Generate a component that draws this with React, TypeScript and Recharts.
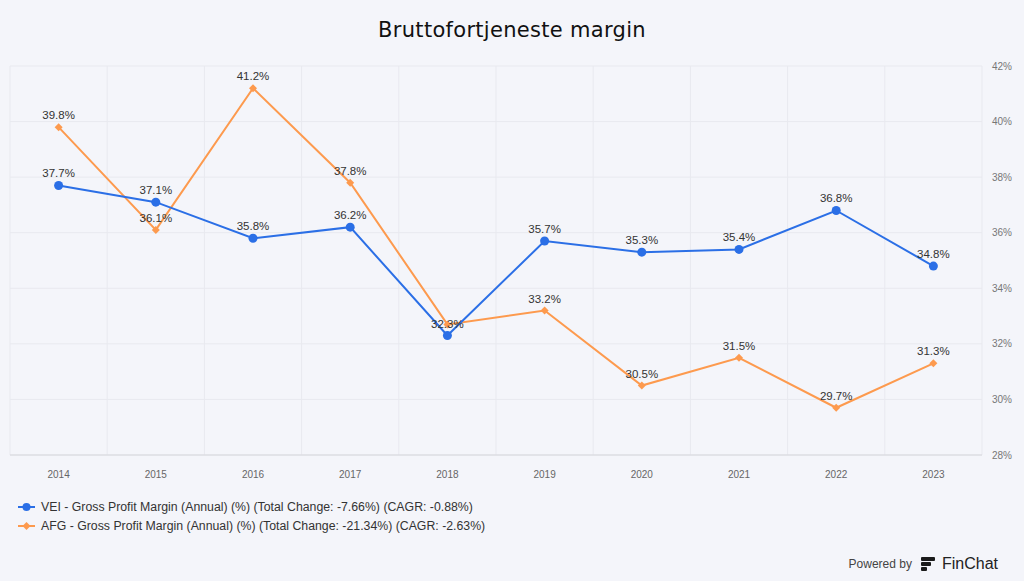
import { LineChart, Line, XAxis, YAxis, CartesianGrid } from 'recharts'

const years = ['2014', '2015', '2016', '2017', '2018', '2019', '2020', '2021', '2022', '2023']
const vei = [37.7, 37.1, 35.8, 36.2, 32.3, 35.7, 35.3, 35.4, 36.8, 34.8]
const afg = [39.8, 36.1, 41.2, 37.8, 32.7, 33.2, 30.5, 31.5, 29.7, 31.3]
const yTicks = [28, 30, 32, 34, 36, 38, 40, 42]
// labels the reference leaves out (overlapped)
const afgHidden = ['2018']

const BLUE = '#2b6fe6'
const ORANGE = '#fd9a4e'

const data = years.map((year, i) => ({ year, vei: vei[i], afg: afg[i] }))

const legendItems = [
  { color: BLUE, shape: 'circle', text: 'VEI - Gross Profit Margin (Annual) (%) (Total Change: -7.66%) (CAGR: -0.88%)' },
  { color: ORANGE, shape: 'diamond', text: 'AFG - Gross Profit Margin (Annual) (%) (Total Change: -21.34%) (CAGR: -2.63%)' },
]

const makeLabel = (hidden: string[]) => (props: any) => {
  const { x, y, value, index } = props
  if (hidden.includes(years[index])) return null
  return (
    <text x={x} y={y - 8} textAnchor="middle" fontSize={11.5} fill="#333" fontFamily="Liberation Sans, Arial, sans-serif">
      {value.toFixed(1)}%
    </text>
  )
}

const Diamond = (props: any) => {
  const { cx, cy } = props
  const s = 4
  return <path d={`M${cx},${cy - s}L${cx + s},${cy}L${cx},${cy + s}L${cx - s},${cy}Z`} fill={ORANGE} />
}

export default function App() {
  const gridX = ({ offset }: any) =>
    years.map((_, i) => offset.left + (i * offset.width) / years.length).concat(offset.left + offset.width)

  return (
    <div style={{ position: 'fixed', left: 0, top: 0, width: 1024, height: 581, background: '#f4f5fa', overflow: 'hidden' }}>
      <div style={{ position: 'absolute', top: 18, width: 1024, textAlign: 'center', fontFamily: 'DejaVu Sans, sans-serif', fontSize: 21, fontWeight: 500, color: '#111', letterSpacing: 0.3 }}>
        Bruttofortjeneste margin
      </div>
      <div style={{ position: 'absolute', left: 0, top: 0 }}>
        <LineChart width={1024} height={581} data={data} margin={{ top: 66, right: 0, left: 10, bottom: 96 }}>
          <CartesianGrid stroke="#e8e9ef" verticalCoordinatesGenerator={gridX} />
          <XAxis
            dataKey="year"
            scale="band"
            tick={{ fontSize: 10, fill: '#666', fontFamily: 'Liberation Sans, Arial, sans-serif' }}
            tickLine={false}
            axisLine={{ stroke: '#d6d7dc' }}
            tickMargin={10}
            height={30}
          />
          <YAxis
            orientation="right"
            domain={[28, 42]}
            ticks={yTicks}
            width={42}
            tick={{ fontSize: 10, fill: '#777', fontFamily: 'Liberation Sans, Arial, sans-serif', textAnchor: 'start' }}
            tickFormatter={v => `${v}%`}
            axisLine={false}
            tickLine={false}
            tickMargin={4}
          />
          <Line
            dataKey="afg"
            stroke={ORANGE}
            strokeWidth={2}
            dot={<Diamond />}
            activeDot={false}
            label={makeLabel(afgHidden)}
            isAnimationActive={false}
          />
          <Line
            dataKey="vei"
            stroke={BLUE}
            strokeWidth={2}
            dot={{ r: 4.5, fill: BLUE, stroke: BLUE, strokeWidth: 0 }}
            activeDot={false}
            label={makeLabel([])}
            isAnimationActive={false}
          />
        </LineChart>
      </div>
      <div style={{ position: 'absolute', left: 18, top: 497, fontFamily: 'Liberation Sans, Arial, sans-serif', fontSize: 12.3, color: '#333' }}>
        {legendItems.map(item => (
          <div key={item.text} style={{ display: 'flex', alignItems: 'center', height: 19 }}>
            <svg width={18} height={10} style={{ marginRight: 5 }}>
              <line x1={0} y1={5} x2={17} y2={5} stroke={item.color} strokeWidth={2} />
              {item.shape === 'circle'
                ? <circle cx={8.5} cy={5} r={4} fill={item.color} />
                : <path d="M8.5,1L12.5,5L8.5,9L4.5,5Z" fill={item.color} />}
            </svg>
            <span>{item.text}</span>
          </div>
        ))}
      </div>
      <div style={{ position: 'absolute', right: 26, bottom: 8, display: 'flex', alignItems: 'center', fontFamily: 'Liberation Sans, Arial, sans-serif' }}>
        <span style={{ fontSize: 12, color: '#444', marginRight: 8 }}>Powered by</span>
        <svg width={16} height={16} style={{ marginRight: 6 }}>
          <rect x={1} y={1} width={14} height={4} rx={1} fill="#1a1a1a" />
          <rect x={1} y={6} width={10} height={4} rx={1} fill="#1a1a1a" />
          <rect x={1} y={11} width={6} height={4} rx={1} fill="#1a1a1a" />
        </svg>
        <span style={{ fontSize: 16, color: '#222', fontWeight: 500 }}>FinChat</span>
      </div>
    </div>
  )
}
